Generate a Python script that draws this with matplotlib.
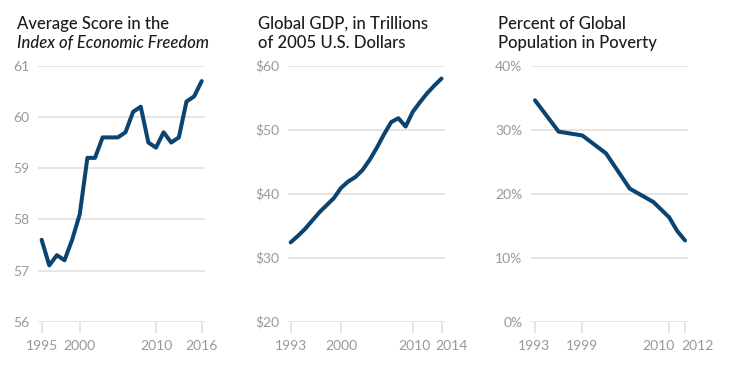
import matplotlib.pyplot as plt
from matplotlib.ticker import FixedLocator
from matplotlib.transforms import ScaledTranslation

plt.rcParams['font.family'] = ['Lato', 'DejaVu Sans']

# Index of Economic Freedom, average score
efw_years = list(range(1995, 2017))
efw_score = [57.6, 57.1, 57.3, 57.2, 57.6, 58.1, 59.2, 59.2, 59.6, 59.6, 59.6,
             59.7, 60.1, 60.2, 59.5, 59.4, 59.7, 59.5, 59.6, 60.3, 60.4, 60.7]

# Global GDP, trillions of 2005 US dollars
gdp_years = list(range(1993, 2015))
gdp_value = [32.4, 33.4, 34.5, 35.8, 37.1, 38.2, 39.3, 40.9, 41.9, 42.6, 43.7,
             45.3, 47.2, 49.3, 51.2, 51.8, 50.5, 52.8, 54.3, 55.7, 56.9, 58.0]

# Percent of global population in poverty
pov_years = [1993, 1996, 1999, 2002, 2005, 2008, 2010, 2011, 2012]
pov_value = [34.6, 29.7, 29.1, 26.3, 20.8, 18.7, 16.3, 14.2, 12.7]

line_color = '#0b4470'
grid_color = '#dedede'
label_color = '#9b9794'
title_color = '#1e1b1c'

fig = plt.figure(figsize=(7.29, 3.73), dpi=100)

panels = [
    dict(rect=[0.0521, 0.1375, 0.2291, 0.6863], x=efw_years, y=efw_score,
         xlim=(1994.52, 2016.43), ylim=(56, 61),
         yticks=[56, 57, 58, 59, 60, 61],
         ylabels=['56', '57', '58', '59', '60', '61'],
         xticks=[1995, 2000, 2010, 2016], xgrid=[2000, 2010],
         shift=[0, 0, 0, 0]),
    dict(rect=[0.3951, 0.1375, 0.2154, 0.6863], x=gdp_years, y=gdp_value,
         xlim=(1992.63, 2014.49), ylim=(20, 60),
         yticks=[20, 30, 40, 50, 60],
         ylabels=['$20', '$30', '$40', '$50', '$60'],
         xticks=[1993, 2000, 2010, 2014], xgrid=[2000, 2010],
         shift=[0, 0, 2, 10]),
    dict(rect=[0.7280, 0.1375, 0.2162, 0.6863], x=pov_years, y=pov_value,
         xlim=(1992.46, 2012.42), ylim=(0, 40),
         yticks=[0, 10, 20, 30, 40],
         ylabels=['0%', '10%', '20%', '30%', '40%'],
         xticks=[1993, 1999, 2010, 2012], xgrid=[1999, 2010],
         shift=[-1, 0, -11, 12]),
]

for p in panels:
    ax = fig.add_axes(p['rect'])
    ax.plot(p['x'], p['y'], color=line_color, linewidth=2.9,
            solid_joinstyle='round', solid_capstyle='round', zorder=3)
    ax.set_xlim(*p['xlim'])
    ax.set_ylim(*p['ylim'])
    ax.set_yticks(p['yticks'])
    ax.set_yticklabels(p['ylabels'])
    ax.set_xticks(p['xticks'])
    ax.set_xticklabels([str(t) for t in p['xticks']])
    ax.xaxis.set_minor_locator(FixedLocator(p['xgrid']))
    ax.grid(axis='y', which='major', color=grid_color, linewidth=1.1)
    ax.grid(axis='x', which='minor', color=grid_color, linewidth=1.1)
    ax.tick_params(axis='x', which='major', length=8, width=1.1,
                   color=grid_color, labelcolor=label_color, labelsize=10, pad=5)
    ax.tick_params(axis='x', which='minor', length=0)
    ax.tick_params(axis='y', length=0, labelcolor=label_color, labelsize=10, pad=6)
    for lab, dx in zip(ax.get_xticklabels(), p['shift']):
        lab.set_transform(lab.get_transform() + ScaledTranslation(dx / 100, 0, fig.dpi_scale_trans))
    for s in ax.spines.values():
        s.set_visible(False)
    ax.set_axisbelow(True)

tkw = dict(color=title_color, fontsize=12, fontweight='medium', va='baseline', ha='left')
fig.text(0.023, 1 - 29 / 373, 'Average Score in the', **tkw)
fig.text(0.023, 1 - 48 / 373, 'Index of Economic Freedom', style='italic', **tkw)
fig.text(0.354, 1 - 29 / 373, 'Global GDP, in Trillions', **tkw)
fig.text(0.354, 1 - 48 / 373, 'of 2005 U.S. Dollars', **tkw)
fig.text(0.683, 1 - 29 / 373, 'Percent of Global', **tkw)
fig.text(0.683, 1 - 48 / 373, 'Population in Poverty', **tkw)

fig.savefig('out.png', dpi=100, facecolor='white')
